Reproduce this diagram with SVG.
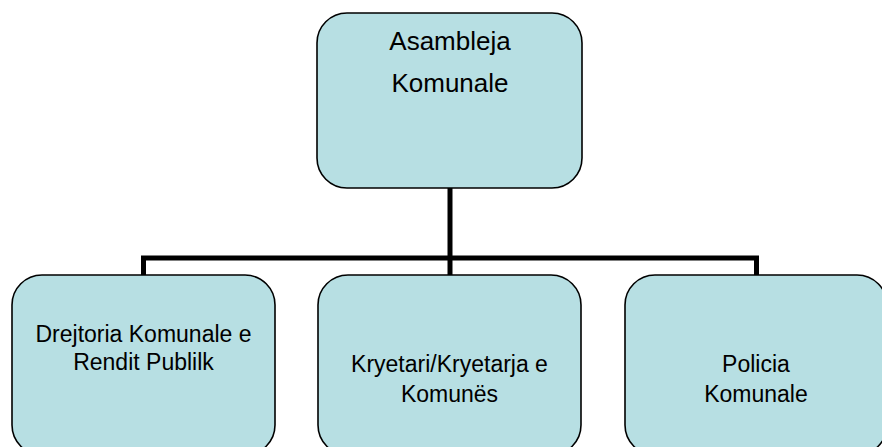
<svg xmlns="http://www.w3.org/2000/svg" width="882" height="447" viewBox="0 0 882 447">
<style>
.box{fill:#B7DFE3;stroke:#000;stroke-width:1.6}
.conn{fill:none;stroke:#000;stroke-width:5;stroke-linejoin:miter;stroke-linecap:butt}
text{font-family:"Liberation Sans",Arial,sans-serif;fill:#000;text-anchor:middle}
.t1{font-size:26px}
.t2{font-size:23px}
</style>
<rect width="882" height="447" fill="#fff"/>
<g id="connectors">
<path class="conn" d="M450,188 V258"/>
<path class="conn" d="M143.5,275 V258 H756.5 V275"/>
<path class="conn" d="M450,258 V275"/>
</g>
<g id="asambleja">
<rect class="box" x="317" y="13" width="265" height="175" rx="30" ry="30"/>
<text class="t1" x="450" y="50">Asambleja</text>
<text class="t1" x="450" y="92">Komunale</text>
</g>
<g id="drejtoria">
<rect class="box" x="12" y="275" width="263" height="180" rx="30" ry="30"/>
<text class="t2" x="143.5" y="342">Drejtoria Komunale e</text>
<text class="t2" x="143.5" y="370">Rendit Publilk</text>
</g>
<g id="kryetari">
<rect class="box" x="318" y="275" width="263" height="180" rx="30" ry="30"/>
<text class="t2" x="449.5" y="372">Kryetari/Kryetarja e</text>
<text class="t2" x="449.5" y="402">Komunës</text>
</g>
<g id="policia">
<rect class="box" x="625" y="275" width="262" height="180" rx="30" ry="30"/>
<text class="t2" x="756" y="372">Policia</text>
<text class="t2" x="756" y="402">Komunale</text>
</g>
</svg>
